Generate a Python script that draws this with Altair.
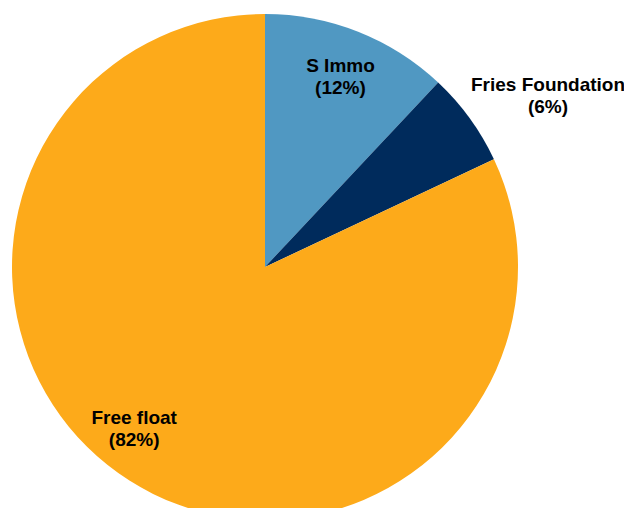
import altair as alt
import pandas as pd

categories = ["S Immo", "Fries Foundation", "Free float"]
shares = [12, 6, 82]
labels = ["S Immo\n(12%)", "Fries Foundation\n(6%)", "Free float\n(82%)"]
colors = ["#5098C2", "#002B5C", "#FDAA1A"]

df = pd.DataFrame({
    "category": categories,
    "share": shares,
    "label": labels,
    "idx": list(range(len(categories))),
})

CX, CY, R = 257, 259, 253
theta_scale = alt.Scale(domain=[0, 100], range=[0, 6.283185307179586])

base = alt.Chart(df)

arcs = base.mark_arc(outerRadius=R, stroke=None).encode(
    theta=alt.Theta("share:Q", stack=True, scale=theta_scale),
    color=alt.Color("category:N", scale=alt.Scale(domain=categories, range=colors), legend=None),
    order=alt.Order("idx:Q"),
    x=alt.value(CX),
    y=alt.value(CY),
)

# label placement per slice: radius and pixel nudge
label_style = {
    "S Immo": dict(radius=205, dx=0, dy=-10),
    "Fries Foundation": dict(radius=335, dx=12, dy=15),
    "Free float": dict(radius=205, dx=-21, dy=-22),
}

layers = [arcs]
for cat in categories:
    st = label_style[cat]
    t = base.transform_window(
        cum="sum(share)", sort=[alt.SortField("idx")]
    ).transform_calculate(
        mid="datum.cum - datum.share / 2"
    ).transform_filter(
        alt.datum.category == cat
    ).mark_text(
        radius=st["radius"], dx=st["dx"], dy=st["dy"],
        font="Liberation Sans", fontWeight="bold", fontSize=19,
        color="black", align="center", baseline="middle",
        lineBreak="\n", lineHeight=22,
    ).encode(
        theta=alt.Theta("mid:Q", stack=False, scale=theta_scale),
        text="label:N",
        x=alt.value(CX),
        y=alt.value(CY),
    )
    layers.append(t)

chart = alt.layer(*layers).properties(
    width=616, height=500, padding=0,
    autosize=alt.AutoSizeParams(type="none"),
).configure_view(stroke=None)

chart.save("out.html", embed_options={"renderer": "svg", "actions": False})
